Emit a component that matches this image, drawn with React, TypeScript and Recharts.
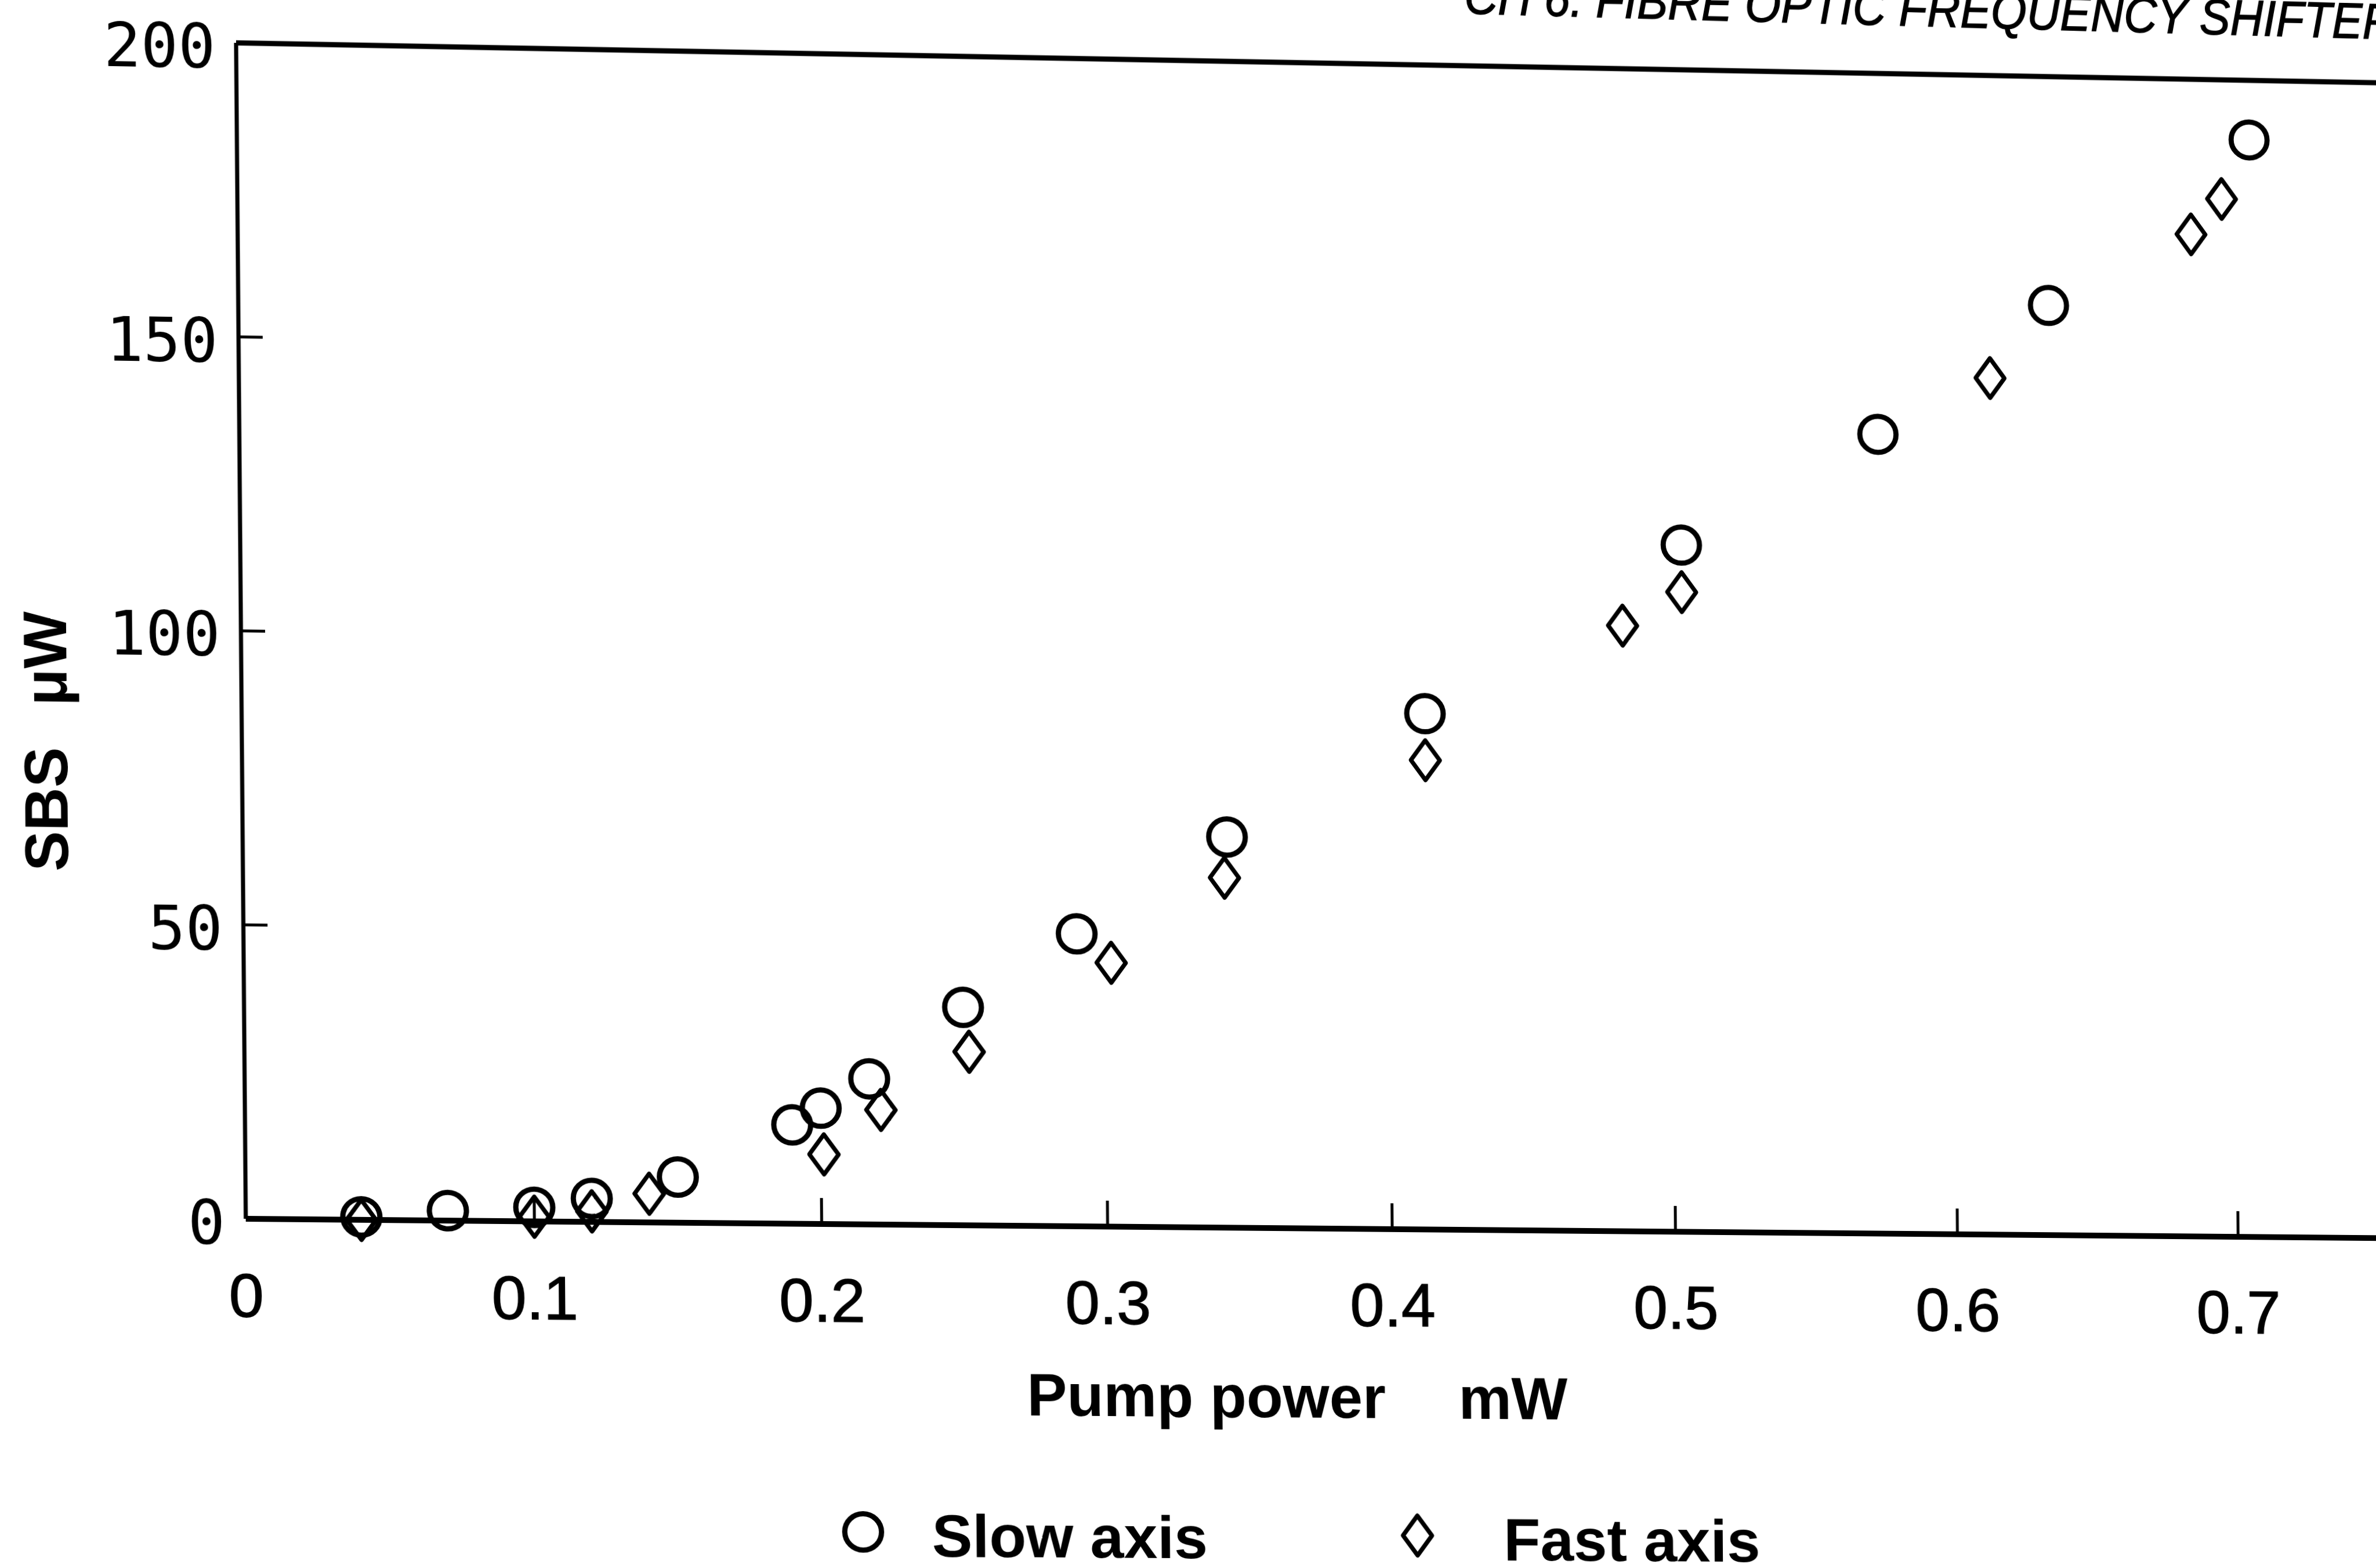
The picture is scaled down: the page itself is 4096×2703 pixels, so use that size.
import React from 'react';
import { ScatterChart, Scatter, XAxis, YAxis, ReferenceLine, Legend } from 'recharts';

// SBS output power against pump power, light launched on each polarisation axis
const slowPump = [0.04, 0.07, 0.1, 0.12, 0.15, 0.19, 0.2, 0.217, 0.25, 0.29, 0.343, 0.413, 0.504, 0.574, 0.635, 0.707];
const slowSbs = [0.5, 1.7, 2.4, 4.0, 7.8, 16.9, 19.8, 24.9, 37.3, 50.1, 67.0, 88.6, 118.2, 137.8, 160.5, 189.7];
const fastPump = [0.04, 0.1, 0.12, 0.14, 0.201, 0.221, 0.252, 0.302, 0.342, 0.413, 0.483, 0.504, 0.614, 0.686, 0.697];
const fastSbs = [0, 0.8, 1.8, 4.9, 11.9, 19.6, 29.7, 45.2, 60.0, 80.6, 104.2, 110.1, 147.8, 173.2, 179.4];

const xTicks = [0, 0.1, 0.2, 0.3, 0.4, 0.5, 0.6, 0.7];
const yTicks = [0, 50, 100, 150, 200];
const seriesNames = ['Slow axis', 'Fast axis'];
const xTitle = ['Pump power', 'mW'];
const yTitle = ['SBS', 'μW'];
const pageHeader = 'CH 6. FIBRE OPTIC FREQUENCY SHIFTER';

const slowData = slowPump.map((x, i) => ({ x, y: slowSbs[i] }));
const fastData = fastPump.map((x, i) => ({ x, y: fastSbs[i] }));

// ---- layout (chart-local pixels) ----
const CW = 4400;
const CH = 2960;
const PLOT_LEFT = 424;
const PLOT_TOP = 274;
const PLOT_W = 3925;
const PLOT_H = 2027;
const X_MAX = 0.8;
const Y_MAX = 200;
const Y_AXIS_W = 100;
const X_AXIS_H = 100;

const SANS = "'Liberation Sans', Arial, Helvetica, sans-serif";
const MONO = "'DejaVu Sans Mono', monospace";
const INK = '#000';

// where the plot frame corners land on the page (the printed page sits slightly askew)
type Pt = [number, number];
const pageQuad: Pt[] = [
  [407.0, 73.9], // x=0, top
  [3842.6, 137.9], // x=0.7, top
  [3858.2, 2132.1], // x=0.7, bottom
  [423.7, 2101.0], // x=0, bottom
];
const QUAD_X = 0.7;

function squareToQuad(q: Pt[]): number[][] {
  const [[x0, y0], [x1, y1], [x2, y2], [x3, y3]] = q;
  const dx1 = x1 - x2, dx2 = x3 - x2, dx3 = x0 - x1 + x2 - x3;
  const dy1 = y1 - y2, dy2 = y3 - y2, dy3 = y0 - y1 + y2 - y3;
  const den = dx1 * dy2 - dx2 * dy1;
  const g = (dx3 * dy2 - dx2 * dy3) / den;
  const h = (dx1 * dy3 - dx3 * dy1) / den;
  return [
    [x1 - x0 + g * x1, x3 - x0 + h * x3, x0],
    [y1 - y0 + g * y1, y3 - y0 + h * y3, y0],
    [g, h, 1],
  ];
}

function mul(a: number[][], b: number[][]): number[][] {
  return a.map((row) => b[0].map((_, j) => row.reduce((s, v, k) => s + v * b[k][j], 0)));
}

function pageTransform(): string {
  const left = PLOT_LEFT;
  const right = PLOT_LEFT + (QUAD_X / X_MAX) * PLOT_W;
  const top = PLOT_TOP;
  const w = right - left;
  const h = PLOT_H;
  const toUnit = [
    [1 / w, 0, -left / w],
    [0, 1 / h, -top / h],
    [0, 0, 1],
  ];
  const n = mul(squareToQuad(pageQuad), toUnit);
  const v = [
    n[0][0], n[1][0], 0, n[2][0],
    n[0][1], n[1][1], 0, n[2][1],
    0, 0, 1, 0,
    n[0][2], n[1][2], 0, n[2][2],
  ];
  return `matrix3d(${v.join(',')})`;
}

// ---- marks ----
const CIRCLE_R = 31.5;
const DIAMOND_HW = 25;
const DIAMOND_HH = 34.5;

const circleAt = (cx: number, cy: number) => (
  <circle cx={cx} cy={cy} r={CIRCLE_R} fill="none" stroke={INK} strokeWidth={9} />
);
const diamondAt = (cx: number, cy: number) => (
  <path
    d={`M${cx},${cy - DIAMOND_HH} L${cx + DIAMOND_HW},${cy} L${cx},${cy + DIAMOND_HH} L${cx - DIAMOND_HW},${cy} Z`}
    fill="none"
    stroke={INK}
    strokeWidth={7.5}
    strokeLinejoin="round"
  />
);

const SlowMark = (p: any) => circleAt(p.cx, p.cy);
const FastMark = (p: any) => diamondAt(p.cx, p.cy);

// ---- axes ----
const XTick = (p: any) => {
  const { x, y, payload } = p;
  const v = payload.value as number;
  return (
    <g>
      {v > 0 && <line x1={x} y1={y} x2={x} y2={y - 45} stroke={INK} strokeWidth={5} />}
      <text
        x={x}
        y={y + 169}
        textAnchor="middle"
        fontFamily={SANS}
        fontSize={106}
        fill={INK}
        stroke={INK}
        strokeWidth={1.5}
      >
        {v === 0 ? '0' : v.toFixed(1)}
      </text>
    </g>
  );
};

const YTick = (p: any) => {
  const { x, y, payload } = p;
  const v = payload.value as number;
  return (
    <g>
      {v > 0 && v < Y_MAX && <line x1={x} y1={y} x2={x + 41} y2={y} stroke={INK} strokeWidth={5} />}
      <text x={x - 35} y={y + 44} textAnchor="end" fontFamily={MONO} fontSize={105} fill={INK}>
        {v}
      </text>
    </g>
  );
};

const XTitle = () => (
  <text y={2630} fontFamily={SANS} fontWeight={700} fontSize={103} fill={INK}>
    <tspan x={1755}>{xTitle[0]}</tspan>
    <tspan x={2499}>{xTitle[1]}</tspan>
  </text>
);

const YTitle = () => (
  <g fontFamily={SANS} fontWeight={700} fontSize={104} fill={INK}>
    <text x={128} y={1599} textAnchor="middle" transform="rotate(-90, 128, 1599)">
      {yTitle[0]}
    </text>
    <text x={128} y={1340} textAnchor="middle" transform="rotate(-90, 128, 1340)">
      {yTitle[1]}
    </text>
  </g>
);

const PageHeader = () => (
  <text
    x={2528}
    y={183}
    transform="rotate(0.5, 2528, 183)"
    fontFamily={SANS}
    fontStyle="italic"
    fontSize={88}
    textLength={1623}
    lengthAdjust="spacingAndGlyphs"
    fill={INK}
    stroke={INK}
    strokeWidth={1.5}
  >
    {pageHeader}
  </text>
);

// ---- legend ----
const LEGEND_LEFT = 1400;
const LEGEND_TOP = 2756;
const LEGEND_W = 1400;
const LEGEND_H = 150;
const legendSlots: Record<string, { mark: number; text: number }> = {
  [seriesNames[0]]: { mark: 72, text: 190 },
  [seriesNames[1]]: { mark: 1026, text: 1175 },
};

const LegendContent = (props: any) => {
  const items: any[] = props.payload ?? [];
  return (
    <svg width={LEGEND_W} height={LEGEND_H} style={{ display: 'block', overflow: 'visible' }}>
      {items.map((item) => {
        const slot = legendSlots[item.value];
        if (!slot) return null;
        const isSlow = item.value === seriesNames[0];
        return (
          <g key={item.value}>
            {isSlow ? circleAt(slot.mark, 78) : diamondAt(slot.mark, 78)}
            <text x={slot.text} y={120} fontFamily={SANS} fontWeight={700} fontSize={104} fill={INK}>
              {item.value}
            </text>
          </g>
        );
      })}
    </svg>
  );
};

export default function App() {
  return (
    <div
      style={{
        position: 'fixed',
        left: 0,
        top: 0,
        width: 4096,
        height: 2703,
        overflow: 'hidden',
        background: '#fff',
      }}
    >
      <div
        style={{
          position: 'absolute',
          left: 0,
          top: 0,
          width: CW,
          height: CH,
          transformOrigin: '0 0',
          transform: pageTransform(),
        }}
      >
        <ScatterChart
          width={CW}
          height={CH}
          margin={{
            top: PLOT_TOP,
            left: PLOT_LEFT - Y_AXIS_W,
            right: CW - PLOT_LEFT - PLOT_W,
            bottom: CH - PLOT_TOP - PLOT_H - X_AXIS_H,
          }}
        >
          <XAxis
            dataKey="x"
            type="number"
            domain={[0, X_MAX]}
            ticks={xTicks}
            interval={0}
            height={X_AXIS_H}
            tickSize={0}
            tickMargin={0}
            tickLine={false}
            tick={(p: any) => <XTick {...p} />}
            axisLine={{ stroke: INK, strokeWidth: 10 }}
            label={<XTitle />}
          />
          <YAxis
            dataKey="y"
            type="number"
            domain={[0, Y_MAX]}
            ticks={yTicks}
            interval={0}
            width={Y_AXIS_W}
            tickSize={0}
            tickMargin={0}
            tickLine={false}
            tick={(p: any) => <YTick {...p} />}
            axisLine={{ stroke: INK, strokeWidth: 7 }}
            label={<YTitle />}
          />
          <ReferenceLine y={Y_MAX} stroke={INK} strokeWidth={9} label={<PageHeader />} />
          <Legend
            layout="horizontal"
            verticalAlign="middle"
            align="center"
            wrapperStyle={{ left: LEGEND_LEFT, top: LEGEND_TOP, width: LEGEND_W, height: LEGEND_H }}
            content={(p: any) => <LegendContent {...p} />}
          />
          <Scatter
            name={seriesNames[0]}
            data={slowData}
            shape={(p: any) => <SlowMark {...p} />}
            isAnimationActive={false}
          />
          <Scatter
            name={seriesNames[1]}
            data={fastData}
            shape={(p: any) => <FastMark {...p} />}
            isAnimationActive={false}
          />
        </ScatterChart>
      </div>
    </div>
  );
}
